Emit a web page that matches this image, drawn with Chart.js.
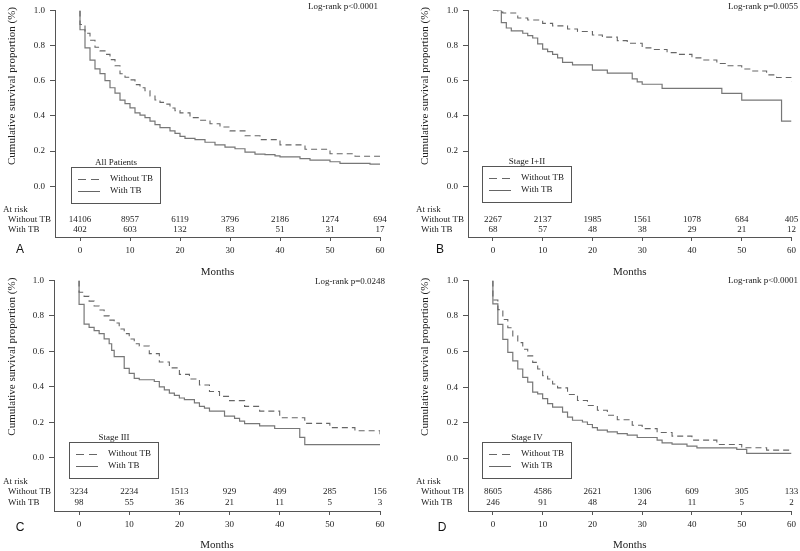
<!DOCTYPE html>
<html>
<head>
<meta charset="utf-8">
<script src="https://cdn.jsdelivr.net/npm/chart.js@4.4.0/dist/chart.umd.min.js"></script>
<style>
  body { margin: 0; background: #fff; }
  #wrap { position: relative; width: 800px; height: 551px; }
  canvas { position: absolute; }
</style>
</head>
<body>
<div id="wrap">
  <canvas id="chartA" width="400" height="280" style="left:0;top:0"></canvas>
  <canvas id="chartB" width="400" height="280" style="left:400px;top:0"></canvas>
  <canvas id="chartC" width="400" height="281" style="left:0;top:270px"></canvas>
  <canvas id="chartD" width="400" height="281" style="left:400px;top:270px"></canvas>
</div>
<script>
// ticks / categories
const xTicks = [0, 10, 20, 30, 40, 50, 60];
const yTicks = [0, 0.2, 0.4, 0.6, 0.8, 1.0];
const groups = ['Without TB', 'With TB'];

// A - All Patients
const monthsA0 = [0, 0, 1, 2, 3, 4, 5, 6, 7, 8, 9, 10, 11, 12, 13, 14, 15, 16, 17, 18, 19, 20, 22, 24, 26, 28, 30, 33, 36, 40, 45, 50, 55, 60];
const survA0 = [1.0, 0.92, 0.87, 0.83, 0.79, 0.77, 0.75, 0.72, 0.685, 0.64, 0.62, 0.605, 0.578, 0.56, 0.543, 0.513, 0.49, 0.477, 0.467, 0.445, 0.43, 0.417, 0.39, 0.375, 0.355, 0.337, 0.315, 0.287, 0.265, 0.235, 0.21, 0.185, 0.17, 0.154];
const monthsA1 = [0, 0, 1, 2, 3, 4, 5, 6, 7, 8, 9, 10, 11, 12, 13, 14, 15, 16, 18, 19, 20, 21, 23, 25, 27, 29, 31, 33, 35, 37, 39, 40, 44, 46, 50, 52, 58, 60];
const survA1 = [1.0, 0.89, 0.787, 0.717, 0.667, 0.64, 0.60, 0.56, 0.53, 0.49, 0.47, 0.445, 0.417, 0.404, 0.39, 0.37, 0.35, 0.333, 0.315, 0.30, 0.283, 0.272, 0.265, 0.25, 0.235, 0.222, 0.213, 0.194, 0.183, 0.18, 0.172, 0.167, 0.157, 0.148, 0.139, 0.13, 0.126, 0.124];
const riskA0 = [14106, 8957, 6119, 3796, 2186, 1274, 694];
const riskA1 = [402, 603, 132, 83, 51, 31, 17];

// B - Stage I+II
const monthsB0 = [0, 1, 2, 5, 7, 10, 12, 15, 17, 20, 22, 25, 27, 30, 32, 35, 37, 40, 42, 45, 47, 50, 52, 55, 57, 60];
const survB0 = [1.0, 0.99, 0.985, 0.957, 0.945, 0.926, 0.912, 0.894, 0.88, 0.86, 0.848, 0.828, 0.813, 0.787, 0.778, 0.76, 0.75, 0.73, 0.718, 0.698, 0.685, 0.667, 0.655, 0.633, 0.618, 0.593];
const monthsB1 = [0, 1.7, 2.7, 3.7, 6, 7, 8, 9, 10, 11, 12, 13, 14, 16, 20, 23, 28, 29, 30, 34, 46, 50, 58, 60];
const survB1 = [1.0, 0.93, 0.90, 0.883, 0.87, 0.857, 0.843, 0.81, 0.78, 0.765, 0.75, 0.73, 0.704, 0.69, 0.66, 0.643, 0.61, 0.593, 0.58, 0.556, 0.528, 0.49, 0.37, 0.37];
const riskB0 = [2267, 2137, 1985, 1561, 1078, 684, 405];
const riskB1 = [68, 57, 48, 38, 29, 21, 12];

// C - Stage III
const monthsC0 = [0, 0, 1, 2, 3, 4, 5, 6, 7, 8, 9, 10, 11, 12, 14, 16, 18, 20, 22, 24, 26, 28, 30, 33, 36, 40, 45, 50, 55, 60];
const survC0 = [1.0, 0.933, 0.91, 0.883, 0.856, 0.833, 0.80, 0.776, 0.76, 0.726, 0.70, 0.67, 0.643, 0.63, 0.587, 0.54, 0.507, 0.47, 0.444, 0.41, 0.374, 0.346, 0.322, 0.29, 0.263, 0.226, 0.194, 0.17, 0.152, 0.133];
const monthsC1 = [0, 0, 1, 2, 3, 4, 5, 6, 6.5, 7, 9, 10, 11, 12, 15, 16, 17, 18, 19, 20, 21, 23, 24, 25, 26, 29, 31, 32, 33, 36, 39, 44, 45, 60];
const survC1 = [1.0, 0.865, 0.754, 0.735, 0.717, 0.70, 0.67, 0.643, 0.605, 0.57, 0.504, 0.476, 0.448, 0.44, 0.43, 0.40, 0.383, 0.365, 0.352, 0.337, 0.328, 0.31, 0.29, 0.28, 0.263, 0.235, 0.222, 0.207, 0.193, 0.18, 0.165, 0.115, 0.074, 0.074];
const riskC0 = [3234, 2234, 1513, 929, 499, 285, 156];
const riskC1 = [98, 55, 36, 21, 11, 5, 3];

// D - Stage IV
const monthsD0 = [0, 0, 1, 2, 3, 4, 5, 6, 7, 8, 9, 10, 11, 12, 13, 15, 17, 19, 21, 23, 25, 28, 30, 33, 36, 40, 45, 50, 55, 60];
const survD0 = [1.0, 0.89, 0.836, 0.78, 0.734, 0.688, 0.65, 0.613, 0.576, 0.539, 0.502, 0.465, 0.446, 0.418, 0.396, 0.359, 0.325, 0.297, 0.27, 0.242, 0.217, 0.186, 0.167, 0.145, 0.125, 0.102, 0.078, 0.059, 0.046, 0.041];
const monthsD1 = [0, 0, 1, 2, 3, 4, 5, 6, 7, 8, 9, 10, 11, 12, 14, 15, 16, 18, 19, 20, 21, 23, 25, 27, 29, 33, 34, 36, 39, 41, 49, 51, 60];
const survD1 = [1.0, 0.868, 0.753, 0.669, 0.595, 0.548, 0.502, 0.455, 0.428, 0.372, 0.362, 0.335, 0.307, 0.288, 0.26, 0.232, 0.214, 0.204, 0.19, 0.173, 0.158, 0.149, 0.139, 0.13, 0.117, 0.102, 0.087, 0.08, 0.069, 0.059, 0.05, 0.028, 0.028];
const riskD0 = [8605, 4586, 2621, 1306, 609, 305, 133];
const riskD1 = [246, 91, 48, 24, 11, 5, 2];

const SERIF = '"Liberation Serif", "Times New Roman", serif';
const TEXT = '#222';
const AXIS = '#555';

Chart.defaults.font.family = SERIF;
Chart.defaults.color = TEXT;

function km(months, surv) {
    return months.map((m, i) => ({ x: m, y: surv[i] }));
}

function makePanel(id, geo, txt, curves, risk) {
    const canvas = document.getElementById(id);
    const W = canvas.width, H = canvas.height;
    // axis starts below 0 to make room for the at-risk table
    const yMin = 1 - (geo.bottom - geo.top) / (geo.zero - geo.top);

    const overlay = {
        id: 'overlay_' + id,
        afterDraw(chart) {
            const ctx = chart.ctx;
            const xs = chart.scales.x, ys = chart.scales.y;
            ctx.save();
            ctx.fillStyle = TEXT;
            ctx.textBaseline = 'middle';

            // log-rank
            ctx.font = '9px ' + SERIF;
            ctx.textAlign = 'right';
            ctx.fillText(txt.logrank, geo.logX, geo.logY);

            // at risk table
            ctx.textAlign = 'left';
            ctx.fillText('At risk', geo.riskX - 5, geo.riskY[0]);
            ctx.fillText(groups[0], geo.riskX, geo.riskY[1]);
            ctx.fillText(groups[1], geo.riskX, geo.riskY[2]);
            ctx.textAlign = 'center';
            xTicks.forEach((m, i) => {
                const px = xs.getPixelForValue(m);
                ctx.fillText(String(risk[0][i]), px, geo.riskY[1]);
                ctx.fillText(String(risk[1][i]), px, geo.riskY[2]);
            });

            // legend box
            const lg = geo.legend;
            ctx.strokeStyle = AXIS;
            ctx.lineWidth = 1;
            ctx.strokeRect(lg.x + 0.5, lg.y + 0.5, 89, 36);
            ctx.fillText(txt.title, lg.x + 45, lg.y - 4);
            ctx.textAlign = 'left';
            ctx.fillText(groups[0], lg.x + 39, lg.y + 12);
            ctx.fillText(groups[1], lg.x + 39, lg.y + 24);
            ctx.strokeStyle = '#666';
            ctx.setLineDash([8, 5]);
            ctx.beginPath();
            ctx.moveTo(lg.x + 7, lg.y + 12.5);
            ctx.lineTo(lg.x + 29, lg.y + 12.5);
            ctx.stroke();
            ctx.setLineDash([]);
            ctx.beginPath();
            ctx.moveTo(lg.x + 7, lg.y + 24.5);
            ctx.lineTo(lg.x + 29, lg.y + 24.5);
            ctx.stroke();

            // axis titles
            ctx.font = '11px ' + SERIF;
            ctx.textAlign = 'center';
            ctx.fillText('Months', (chart.chartArea.left + chart.chartArea.right) / 2, geo.monthsY);
            ctx.save();
            ctx.translate(geo.yTitleX, ys.getPixelForValue(0.57));
            ctx.rotate(-Math.PI / 2);
            ctx.fillText('Cumulative survival proportion (%)', 0, 0);
            ctx.restore();

            // panel letter
            ctx.font = '12px "Liberation Sans", Arial, sans-serif';
            ctx.fillStyle = '#111';
            ctx.fillText(txt.letter, geo.letterX, geo.letterY);
            ctx.restore();
        }
    };

    new Chart(canvas, {
        type: 'line',
        data: {
            datasets: [{
                label: groups[0],
                data: km(curves[0][0], curves[0][1]),
                borderColor: '#666',
                borderWidth: 1.1,
                borderDash: [6, 4],
                stepped: true,
                pointRadius: 0,
                fill: false
            }, {
                label: groups[1],
                data: km(curves[1][0], curves[1][1]),
                borderColor: '#777',
                borderWidth: 1.2,
                stepped: true,
                pointRadius: 0,
                fill: false
            }]
        },
        options: {
            responsive: false,
            animation: false,
            events: [],
            layout: { padding: { top: geo.top, right: W - geo.right, left: 0, bottom: 0 } },
            plugins: { legend: { display: false }, tooltip: { enabled: false } },
            scales: {
                x: {
                    type: 'linear',
                    min: -5,
                    max: 60,
                    afterFit: s => { s.height = H - geo.bottom; },
                    afterBuildTicks: s => { s.ticks = xTicks.map(v => ({ value: v })); },
                    ticks: { font: { size: 9 }, color: TEXT, padding: 4, maxRotation: 0 },
                    grid: { drawOnChartArea: false, drawTicks: true, tickLength: 4, color: AXIS },
                    border: { display: true, color: AXIS }
                },
                y: {
                    type: 'linear',
                    min: yMin,
                    max: 1.0,
                    afterFit: s => { s.width = geo.left; },
                    afterBuildTicks: s => { s.ticks = yTicks.map(v => ({ value: v })); },
                    ticks: { font: { size: 9 }, color: TEXT, padding: 5, callback: v => v.toFixed(1) },
                    grid: { drawOnChartArea: false, drawTicks: true, tickLength: 5, color: AXIS },
                    border: { display: true, color: AXIS }
                }
            }
        },
        plugins: [overlay]
    });
}

makePanel('chartA',
    { left: 55, top: 5, zero: 185, bottom: 237, right: 380, logX: 378, logY: 7,
      riskX: 8, riskY: [210, 220, 230], legend: { x: 71, y: 167 }, monthsY: 272,
      yTitleX: 12, letterX: 20, letterY: 250 },
    { logrank: 'Log-rank p<0.0001', title: 'All Patients', letter: 'A' },
    [[monthsA0, survA0], [monthsA1, survA1]], [riskA0, riskA1]);

makePanel('chartB',
    { left: 68, top: 5, zero: 185, bottom: 237, right: 393, logX: 398, logY: 7,
      riskX: 21, riskY: [210, 220, 230], legend: { x: 82, y: 166 }, monthsY: 272,
      yTitleX: 25, letterX: 40, letterY: 250 },
    { logrank: 'Log-rank p=0.0055', title: 'Stage I+II', letter: 'B' },
    [[monthsB0, survB0], [monthsB1, survB1]], [riskB0, riskB1]);

makePanel('chartC',
    { left: 54, top: 7, zero: 187, bottom: 241, right: 380, logX: 385, logY: 12,
      riskX: 8, riskY: [212, 222, 233], legend: { x: 69, y: 172 }, monthsY: 275,
      yTitleX: 12, letterX: 20, letterY: 258 },
    { logrank: 'Log-rank p=0.0248', title: 'Stage III', letter: 'C' },
    [[monthsC0, survC0], [monthsC1, survC1]], [riskC0, riskC1]);

makePanel('chartD',
    { left: 68, top: 9, zero: 188, bottom: 241, right: 393, logX: 398, logY: 11,
      riskX: 21, riskY: [212, 222, 233], legend: { x: 82, y: 172 }, monthsY: 275,
      yTitleX: 25, letterX: 42, letterY: 258 },
    { logrank: 'Log-rank p<0.0001', title: 'Stage IV', letter: 'D' },
    [[monthsD0, survD0], [monthsD1, survD1]], [riskD0, riskD1]);
</script>
</body>
</html>
